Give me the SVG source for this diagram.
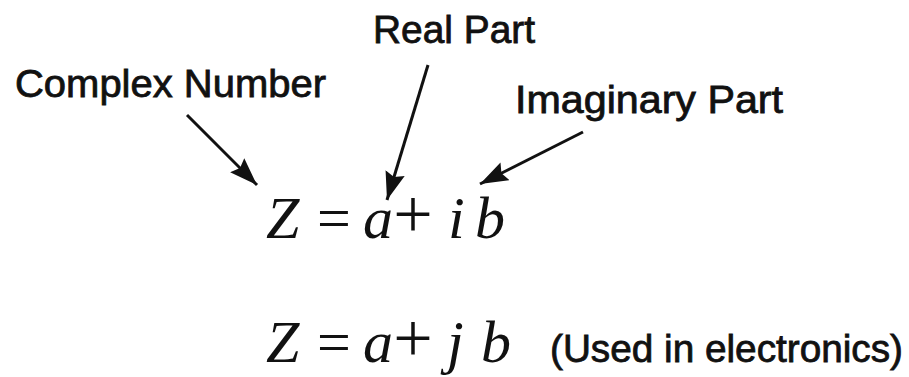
<svg xmlns="http://www.w3.org/2000/svg" width="909" height="377" viewBox="0 0 909 377">
<style>
.lbl{font-family:"Liberation Sans","DejaVu Sans",sans-serif;font-size:38px;fill:#111;stroke:#111;stroke-width:0.8}
.math{font-family:"Liberation Serif","Times New Roman",serif;font-size:60px;fill:#111}
.it{font-style:italic}
.eq{text-anchor:middle}
.op{font-size:70px;text-anchor:middle}
.conn{stroke:#111;stroke-width:3;fill:none}
</style>
<defs>
<marker id="ah" markerUnits="userSpaceOnUse" markerWidth="32" markerHeight="24" refX="28" refY="10" orient="auto">
<polygon points="0,0 28,10 0,20 4,10" fill="#111"/>
</marker>
</defs>
<rect width="909" height="377" fill="#fff"/>
<g id="complex-number"><text class="lbl" x="15" y="97" textLength="311" lengthAdjust="spacingAndGlyphs">Complex Number</text></g>
<g id="real-part"><text class="lbl" x="373" y="43" textLength="162" lengthAdjust="spacingAndGlyphs">Real Part</text></g>
<g id="imaginary-part"><text class="lbl" x="515" y="113" textLength="268" lengthAdjust="spacingAndGlyphs">Imaginary Part</text></g>
<g id="formula-i">
<text class="math it" x="266" y="238">Z</text>
<text class="math eq" x="334" y="238">=</text>
<text class="math it" x="363" y="238">a</text>
<text class="math op" x="413" y="238">+</text>
<text class="math it" x="448" y="238">i</text>
<text class="math it" x="475" y="238">b</text>
</g>
<g id="formula-j">
<text class="math it" x="266" y="362">Z</text>
<text class="math eq" x="334" y="362">=</text>
<text class="math it" x="363" y="362">a</text>
<text class="math op" x="413" y="362">+</text>
<text class="math it" x="447" y="362">j</text>
<text class="math it" x="481" y="362">b</text>
<text class="lbl" x="550" y="362" textLength="353" lengthAdjust="spacingAndGlyphs">(Used in electronics)</text>
</g>
<g id="connectors">
<line class="conn" x1="187" y1="115" x2="257" y2="185" marker-end="url(#ah)"/>
<line class="conn" x1="428" y1="65" x2="387" y2="200" marker-end="url(#ah)"/>
<line class="conn" x1="583" y1="132" x2="480" y2="184" marker-end="url(#ah)"/>
</g>
</svg>
